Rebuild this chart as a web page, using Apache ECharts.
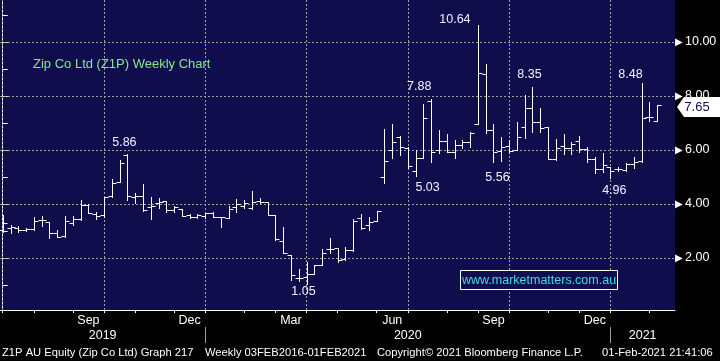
<!DOCTYPE html>
<html><head><meta charset="utf-8">
<script src="https://cdn.jsdelivr.net/npm/echarts@6/dist/echarts.min.js"></script>
<style>html,body{margin:0;padding:0;background:#000;}#c{width:720px;height:361px;}</style>
</head><body><div id="c"></div>
<script>
// ---- data (weekly bars, dated by week-ending Friday) ----
const weeks = [
'2019-07-05','2019-07-12','2019-07-19','2019-07-26','2019-08-02','2019-08-09','2019-08-16','2019-08-23','2019-08-30',
'2019-09-06','2019-09-13','2019-09-20','2019-09-27','2019-10-04','2019-10-11','2019-10-18','2019-10-25',
'2019-11-01','2019-11-08','2019-11-15','2019-11-22','2019-11-29','2019-12-06','2019-12-13','2019-12-20','2019-12-27',
'2020-01-03','2020-01-10','2020-01-17','2020-01-24','2020-01-31','2020-02-07','2020-02-14','2020-02-21','2020-02-28',
'2020-03-06','2020-03-13','2020-03-20','2020-03-27','2020-04-03','2020-04-10','2020-04-17','2020-04-24',
'2020-05-01','2020-05-08','2020-05-15','2020-05-22','2020-05-29','2020-06-05','2020-06-12','2020-06-19','2020-06-26',
'2020-07-03','2020-07-10','2020-07-17','2020-07-24','2020-07-31','2020-08-07','2020-08-14','2020-08-21','2020-08-28',
'2020-09-04','2020-09-11','2020-09-18','2020-09-25','2020-10-02','2020-10-09','2020-10-16','2020-10-23','2020-10-30',
'2020-11-06','2020-11-13','2020-11-20','2020-11-27','2020-12-04','2020-12-11','2020-12-18','2020-12-25',
'2021-01-01','2021-01-08','2021-01-15','2021-01-22','2021-01-29','2021-02-05','2021-02-12'];
const open = [
3.04,3.12,3.12,3.04,3.06,3.42,3.35,2.91,2.82,3.30,
3.45,3.95,3.63,3.59,4.30,4.83,5.81,4.25,4.30,3.88,
4.03,4.11,3.78,3.81,3.59,3.51,3.55,3.66,3.51,3.47,
3.88,3.93,3.87,4.12,4.06,3.59,2.64,2.11,1.25,1.31,
1.41,1.73,2.32,2.36,1.95,2.30,3.47,3.22,3.38,4.99,
6.00,6.49,6.06,5.22,5.72,7.80,6.00,6.33,5.92,6.19,
6.28,6.95,8.81,6.74,5.96,6.15,6.00,6.86,7.57,7.04,
6.84,5.67,6.15,6.06,6.33,6.04,5.65,5.28,5.36,5.28,
5.26,5.47,5.59,7.21,7.09];
const high = [
3.59,3.22,3.19,3.12,3.51,3.56,3.35,3.05,3.55,3.57,
4.16,4.00,3.70,4.27,4.91,5.63,5.86,4.40,4.74,4.25,
4.21,4.12,3.94,3.83,3.62,3.62,3.66,3.69,3.52,3.94,
4.17,4.15,4.48,4.23,4.08,3.60,3.14,2.12,1.58,1.86,
1.75,2.32,2.75,2.37,2.42,3.43,3.62,3.51,3.75,6.78,
6.96,6.53,6.12,6.00,7.69,7.88,6.74,6.58,6.37,6.37,
6.65,10.64,9.17,6.98,6.49,6.37,7.05,8.04,8.35,7.54,
6.85,6.41,6.59,6.30,6.52,6.12,5.73,5.88,5.37,5.38,
5.51,5.73,8.48,7.79,7.66];
const low = [
2.97,2.94,2.98,3.00,3.04,3.19,2.73,2.77,2.79,3.22,
3.41,3.65,3.45,3.53,4.25,4.83,4.15,4.03,3.75,3.43,
3.84,3.72,3.72,3.56,3.47,3.47,3.50,3.51,3.16,3.47,
3.71,3.84,3.81,4.02,3.59,2.67,2.17,1.19,1.16,1.05,
1.41,1.73,2.20,1.86,1.92,2.27,3.06,3.04,3.38,4.77,
5.72,5.81,5.32,5.03,5.72,5.57,5.88,5.92,5.69,6.09,
6.12,6.95,6.62,5.56,5.60,5.90,6.00,6.43,6.68,6.68,
5.67,5.63,5.85,5.85,5.94,5.57,5.16,5.19,4.96,5.23,
5.21,5.32,5.57,7.09,7.09];
const close = [
3.28,3.14,3.05,3.07,3.38,3.41,2.91,2.79,3.38,3.45,
3.95,3.65,3.56,4.25,4.79,5.53,4.30,4.28,3.77,3.93,
4.09,3.78,3.90,3.56,3.51,3.59,3.66,3.51,3.51,3.81,
4.00,4.05,4.09,4.09,3.59,2.69,2.17,1.37,1.25,1.41,
1.73,2.20,2.35,1.92,2.30,3.38,3.10,3.35,3.74,5.60,
6.28,6.12,5.42,5.72,7.20,5.91,6.33,5.92,6.19,6.28,
6.62,8.84,6.74,5.94,6.10,5.98,6.49,7.57,7.02,6.80,
5.67,6.06,6.06,6.22,6.04,5.65,5.28,5.44,5.23,5.28,
5.47,5.57,7.20,7.21,7.65];
const monthNames = ['Jan','Feb','Mar','Apr','May','Jun','Jul','Aug','Sep','Oct','Nov','Dec'];
const labelledMonths = ['Mar','Jun','Sep','Dec'];
const yLabelValues = [2, 4, 6, 8, 10];
const yTickValues = [1, 2, 3, 4, 5, 6, 7, 8, 9, 10, 11];
const annotWeeks = ['2019-10-25','2020-07-24','2020-09-04','2020-10-23','2021-01-29','2020-04-03','2020-07-10','2020-09-18','2021-01-01'];
const annotKind  = ['high','high','high','high','high','low','low','low','low'];
const titleText = 'Zip Co Ltd (Z1P) Weekly Chart';
const footerTexts = ['Z1P AU Equity (Zip Co Ltd) Graph 217','Weekly 03FEB2016-01FEB2021','Copyright\u00A9 2021 Bloomberg Finance L.P.','01-Feb-2021 21:41:06'];
const watermark = 'www.marketmatters.com.au';

// ---- layout / style ----
const FONT = '"Liberation Sans", Arial, sans-serif';
const NAVY = '#0f0d4b';
const X_MIN = -0.35, X_MAX = 86.3;
const Y_MIN = 0.074, Y_MAX = 11.556;
const annotShift = [[-3,-11],[-12,-13],[-23,-5],[-3,-12],[-11,-9],[-3,8],[12,11],[4,16],[4,12]];
const footerX = [2, 205, 377, 602];

// ---- derived axis positions from dates ----
const monthStarts = [];
const yearStarts = [];
weeks.forEach((d, i) => {
  const y = +d.slice(0, 4), m = +d.slice(5, 7);
  if (i === 0 || +weeks[i - 1].slice(5, 7) !== m) monthStarts.push({i: i, m: m, y: y});
  if (i > 0 && +weeks[i - 1].slice(0, 4) !== y) yearStarts.push({i: i, y: y});
});
const monthTickVals = monthStarts.map(s => s.i);
const quarterStarts = monthStarts.filter(s => (s.m - 1) % 3 === 0).map(s => s.i);
const monthLabels = [];
monthStarts.forEach((s, k) => {
  const name = monthNames[s.m - 1];
  if (labelledMonths.indexOf(name) >= 0) {
    const next = k + 1 < monthStarts.length ? monthStarts[k + 1].i : X_MAX;
    monthLabels.push({v: (s.i + next) / 2, t: name});
  }
});
const yearLabels = [];
const firstYear = +weeks[0].slice(0, 4);
const bounds = [X_MIN].concat(yearStarts.map(s => s.i)).concat([X_MAX]);
for (let k = 0; k < bounds.length - 1; k++) yearLabels.push({v: (bounds[k] + bounds[k + 1]) / 2, t: String(firstYear + k)});
const lookup = (arr, v) => { const f = arr.find(a => Math.abs(a.v - v) < 1e-6); return f ? f.t : ''; };

const barData = weeks.map((d, i) => [i, open[i], high[i], low[i], close[i]]);
const annotData = annotWeeks.map((d, k) => {
  const i = weeks.indexOf(d);
  return [i, annotKind[k] === 'high' ? high[i] : low[i], k];
});
const lastPrice = close[close.length - 1];

function renderBar(params, api) {
  const i = api.value(0);
  const px = Math.round(api.coord([i, 0])[0]) + 0.5;
  const yOf = v => Math.round(api.coord([i, v])[1]) + 0.5;
  const yo = yOf(api.value(1)), yh = yOf(api.value(2)), yl = yOf(api.value(3)), yc = yOf(api.value(4));
  const st = {stroke: '#ffffff', lineWidth: 1};
  return {type: 'group', children: [
    {type: 'line', shape: {x1: px, y1: yh - 0.5, x2: px, y2: yl + 0.5}, style: st},
    {type: 'line', shape: {x1: px - 4, y1: yo, x2: px, y2: yo}, style: st},
    {type: 'line', shape: {x1: px, y1: yc, x2: px + 4, y2: yc}, style: st}
  ]};
}
function renderNote(params, api) {
  const k = api.value(2);
  const p = api.coord([api.value(0), api.value(1)]);
  const s = annotShift[k];
  return {type: 'text', x: p[0] + s[0], y: p[1] + s[1], style: {
    text: api.value(1).toFixed(2), fill: '#eef3ff', font: '12.5px ' + FONT,
    align: 'center', verticalAlign: 'middle', textAlign: 'center', textVerticalAlign: 'middle'}};
}

const chart = echarts.init(document.getElementById('c'), null, {renderer: 'canvas'});
chart.setOption({
  backgroundColor: '#000',
  animation: false,
  title: {text: titleText, left: 33, top: 58, padding: 0,
    textStyle: {color: '#8be590', fontSize: 13, fontWeight: 'normal', fontFamily: FONT}},
  grid: {left: 0, right: 45, top: 0, bottom: 51, show: true, backgroundColor: NAVY, borderWidth: 0},
  xAxis: [
    {type: 'value', min: X_MIN, max: X_MAX, position: 'bottom',
     axisLine: {show: true, onZero: false, lineStyle: {color: '#fff', width: 1}},
     axisTick: {show: true, customValues: monthTickVals, length: 3, lineStyle: {color: '#fff'}},
     axisLabel: {customValues: monthLabels.map(a => a.v), formatter: v => lookup(monthLabels, v),
       color: '#fff', fontSize: 12.5, fontFamily: FONT, margin: 4.5},
     splitLine: {show: false}},
    {type: 'value', min: X_MIN, max: X_MAX, position: 'bottom', offset: 17,
     axisLine: {show: false},
     axisTick: {show: true, customValues: yearStarts.map(s => s.i), length: 16, lineStyle: {color: '#9a9a9a'}},
     axisLabel: {customValues: yearLabels.map(a => a.v), formatter: v => lookup(yearLabels, v),
       color: '#fff', fontSize: 12.5, fontFamily: FONT, margin: 2.5},
     splitLine: {show: false}}
  ],
  yAxis: [{
    type: 'value', position: 'right', min: Y_MIN, max: Y_MAX,
    axisLine: {show: true, lineStyle: {color: '#fff', width: 1}},
    axisTick: {show: true, customValues: yTickValues, length: 5, lineStyle: {color: '#fff'}},
    axisLabel: {customValues: yLabelValues, margin: 0,
      formatter: v => '{t|\u25B6}{v|' + v.toFixed(2) + '}',
      rich: {t: {fontSize: 10, width: 10, color: '#fff', fontFamily: 'DejaVu Sans'},
             v: {fontSize: 12.5, color: '#fff', fontFamily: FONT}}},
    splitLine: {show: false}
  }],
  series: [
    {type: 'custom', name: 'Z1P', xAxisIndex: 0, yAxisIndex: 0, data: barData, z: 3,
     encode: {x: 0, y: [1, 2, 3, 4]}, renderItem: renderBar,
     markLine: {silent: true, z: 1, symbol: 'none', label: {show: false}, animation: false,
       lineStyle: {color: '#a0a0a0', type: [2, 2], width: 1},
       data: quarterStarts.map(q => ({xAxis: q})).concat(yLabelValues.map(v => ({yAxis: v})))},
     markPoint: {silent: true, z: 6, animation: false,
       data: [{coord: [X_MAX, lastPrice], value: lastPrice}],
       symbol: 'path://M0,10L7,0L46,0L46,20L7,20Z', symbolSize: [46, 20], symbolOffset: [25, 1.5],
       itemStyle: {color: '#fff'},
       label: {show: true, position: 'inside', offset: [-3, 0], formatter: () => lastPrice.toFixed(2),
         color: NAVY, fontSize: 13, fontFamily: FONT}}},
    {type: 'custom', name: 'notes', xAxisIndex: 0, yAxisIndex: 0, data: annotData, z: 4,
     encode: {x: 0, y: 1}, renderItem: renderNote, silent: true}
  ],
  graphic: [
    {type: 'rect', shape: {x: 460.5, y: 270.5, width: 157, height: 19}, style: {fill: NAVY, stroke: '#fff', lineWidth: 1}, z: 10},
    {type: 'text', x: 539, y: 280.5, z: 11, style: {text: watermark, fill: '#3cdcf0', font: '12.5px ' + FONT,
      textAlign: 'center', textVerticalAlign: 'middle', align: 'center', verticalAlign: 'middle'}}
  ].concat(footerTexts.map((t, k) => ({type: 'text', x: footerX[k], y: 353, z: 11,
      style: {text: t, fill: '#fff', font: '11.2px ' + FONT, textVerticalAlign: 'middle', verticalAlign: 'middle'}})))
});
</script></body></html>
